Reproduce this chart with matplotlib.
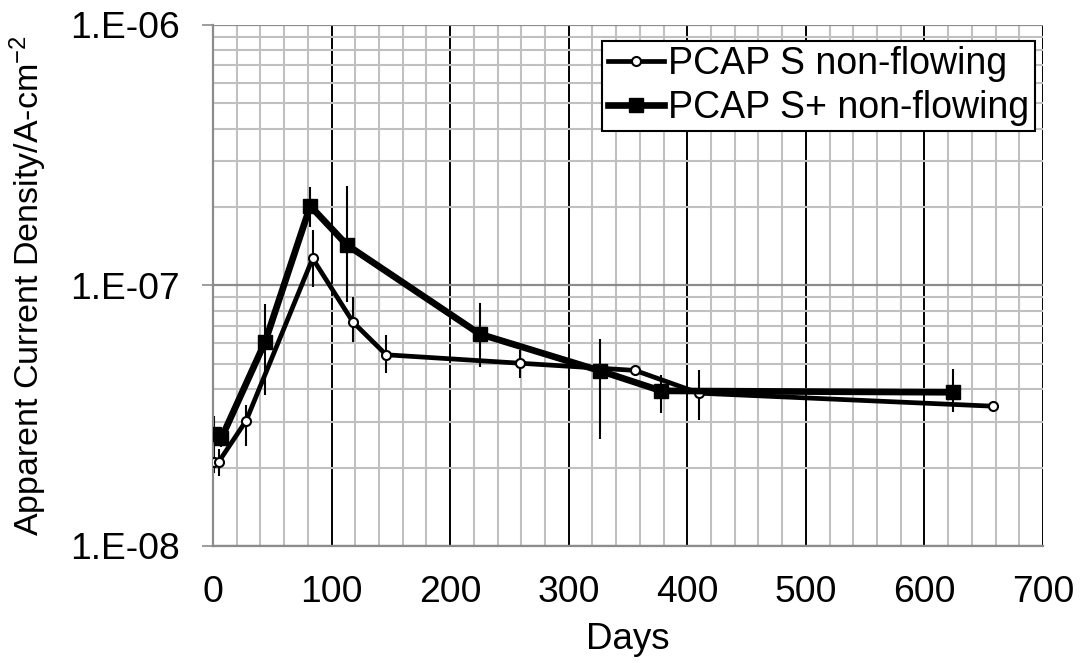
import numpy as np
import matplotlib
matplotlib.use("Agg")
import matplotlib.pyplot as plt
from matplotlib.ticker import MultipleLocator, LogLocator, FixedLocator, NullFormatter

plt.rcParams['font.family'] = ['Liberation Sans', 'DejaVu Sans']
plt.rcParams['mathtext.fontset'] = 'custom'
plt.rcParams['mathtext.rm'] = 'Liberation Sans'
plt.rcParams['mathtext.it'] = 'Liberation Sans'

# PCAP S non-flowing
s_days = [1, 5, 28, 84, 118, 146, 259, 356, 410, 658]
s_val = [2.11e-8, 2.11e-8, 3.03e-8, 1.27e-7, 7.24e-8, 5.42e-8, 5.03e-8, 4.72e-8, 3.86e-8, 3.44e-8]
s_hi = [2.45e-8, 2.35e-8, 3.48e-8, 1.63e-7, 9.06e-8, 6.45e-8, 5.65e-8, 4.90e-8, 4.74e-8, 3.44e-8]
s_lo = [1.90e-8, 1.85e-8, 2.43e-8, 9.85e-8, 6.09e-8, 4.63e-8, 4.40e-8, 4.50e-8, 3.05e-8, 3.44e-8]

# PCAP S+ non-flowing
sp_days = [1, 7, 44, 82, 113, 225, 326, 378, 624]
sp_val = [2.69e-8, 2.59e-8, 6.09e-8, 2.02e-7, 1.43e-7, 6.51e-8, 4.71e-8, 3.94e-8, 3.89e-8]
sp_hi = [3.15e-8, 2.80e-8, 8.49e-8, 2.38e-7, 2.41e-7, 8.55e-8, 6.21e-8, 4.53e-8, 4.78e-8]
sp_lo = [2.40e-8, 2.40e-8, 3.80e-8, 1.68e-7, 8.67e-8, 4.85e-8, 2.57e-8, 3.23e-8, 3.28e-8]

ytick_vals = [1e-8, 1e-7, 1e-6]
ytick_labels = ["1.E-08", "1.E-07", "1.E-06"]

fig = plt.figure(figsize=(10.83, 6.63), dpi=100)
ax = fig.add_axes([0.1967, 0.1765, 0.7664, 0.7858])

ax.set_yscale("log")
ax.set_xlim(0, 700)
ax.set_ylim(1e-8, 1e-6)

ax.xaxis.set_major_locator(MultipleLocator(100))
ax.xaxis.set_minor_locator(MultipleLocator(20))
ax.yaxis.set_major_locator(FixedLocator(ytick_vals))
ax.yaxis.set_minor_locator(LogLocator(base=10, subs=np.arange(2, 10)))
ax.yaxis.set_minor_formatter(NullFormatter())
ax.set_yticklabels(ytick_labels)

ax.grid(which="minor", axis="both", color="#c0c0c0", lw=1.5, zorder=0)
ax.grid(which="major", axis="y", color="#8c8c8c", lw=1.6, zorder=0)
ax.grid(which="major", axis="x", color="black", lw=1.4, zorder=0)
ax.set_axisbelow(True)

for side in ["right", "top"]:
    ax.spines[side].set_visible(False)
for side in ["left", "bottom"]:
    ax.spines[side].set_color("#8c8c8c")
    ax.spines[side].set_linewidth(1.6)

ax.tick_params(axis="y", which="major", direction="out", length=8, width=1.2,
               color="#8c8c8c", labelsize=26.8, pad=16)
ax.tick_params(axis="y", which="minor", length=0)
ax.tick_params(axis="x", which="both", length=0, labelsize=26.8, pad=21)

s_err = [np.array(s_val) - np.array(s_lo), np.array(s_hi) - np.array(s_val)]
sp_err = [np.array(sp_val) - np.array(sp_lo), np.array(sp_hi) - np.array(sp_val)]

ax.errorbar(s_days, s_val, yerr=s_err, fmt="none", ecolor="black", elinewidth=1.5,
            capsize=0, zorder=2)
ax.plot(s_days, s_val, color="black", lw=3.4, marker="o", ms=6.5, mfc="white",
        mec="black", mew=1.5, label="PCAP S non-flowing", zorder=3)
ax.errorbar(sp_days, sp_val, yerr=sp_err, fmt="none", ecolor="black", elinewidth=1.5,
            capsize=0, zorder=2)
ax.plot(sp_days, sp_val, color="black", lw=4.8, marker="s", ms=10.5, mfc="black",
        mec="black", label="PCAP S+ non-flowing", zorder=4)

ax.set_xlabel("Days", fontsize=26.5)
ax.set_ylabel("Apparent Current Density/A-cm$^{-2}$", fontsize=24.5)
ax.xaxis.set_label_coords(0.5, -0.146)
ax.yaxis.set_label_coords(-0.198, 0.5)

leg = ax.legend(loc="upper right", bbox_to_anchor=(0.99, 0.97), fontsize=27,
                frameon=True, fancybox=False, framealpha=1, edgecolor="black",
                handlelength=1.5, handletextpad=0.1, borderpad=0.15,
                labelspacing=0.2, borderaxespad=0)
leg.get_frame().set_linewidth(1.5)

fig.savefig("out.png", dpi=100)
